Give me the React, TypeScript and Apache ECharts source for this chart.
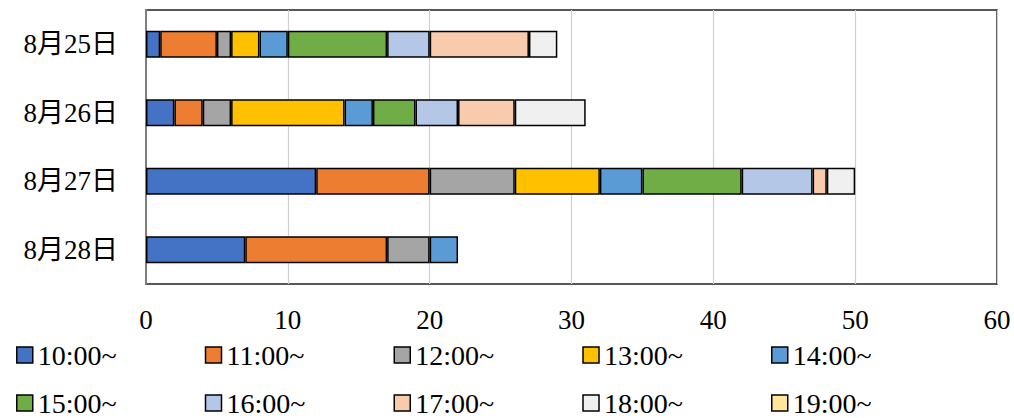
import React, { useEffect, useRef } from "react";
import * as echarts from "echarts";

const categories = ["8月25日", "8月26日", "8月27日", "8月28日"];
const seriesNames = ["10:00~", "11:00~", "12:00~", "13:00~", "14:00~", "15:00~", "16:00~", "17:00~", "18:00~", "19:00~"];
const colors = ["#4472C4", "#ED7D31", "#A5A5A5", "#FFC000", "#5B9BD5", "#70AD47", "#B4C7E7", "#F8CBAD", "#F0F0F0", "#FFE699"];
// values per series, one per category (25,26,27,28)
const s1000 = [1, 2, 12, 7];
const s1100 = [4, 2, 8, 10];
const s1200 = [1, 2, 6, 3];
const s1300 = [2, 8, 6, 0];
const s1400 = [2, 2, 3, 2];
const s1500 = [7, 3, 7, 0];
const s1600 = [3, 3, 5, 0];
const s1700 = [7, 4, 1, 0];
const s1800 = [2, 5, 2, 0];
const s1900 = [0, 0, 0, 0];
const seriesValues = [s1000, s1100, s1200, s1300, s1400, s1500, s1600, s1700, s1800, s1900];
const xTicks = [0, 10, 20, 30, 40, 50, 60];

const FONT = "'Liberation Serif', 'Noto Sans CJK JP', serif";

export default function App() {
  const ref = useRef<HTMLDivElement>(null);
  useEffect(() => {
    if (!ref.current) return;
    const chart = echarts.init(ref.current, undefined, { renderer: "svg" });
    const legendCommon = {
      orient: "horizontal" as const,
      left: 16,
      padding: 0,
      icon: "rect",
      itemWidth: 16,
      itemHeight: 16,
      itemGap: 7,
      itemStyle: { borderColor: "#000", borderWidth: 1.5 },
      textStyle: { fontFamily: FONT, fontSize: 28, color: "#000", width: 160, lineHeight: 32 },
    };
    chart.setOption({
      animation: false,
      textStyle: { fontFamily: FONT },
      grid: {
        left: 146,
        right: 17,
        top: 10,
        bottom: 134,
        show: true,
        borderColor: "#222",
        borderWidth: 1.5,
        containLabel: false,
      },
      legend: [
        { ...legendCommon, top: 339, data: seriesNames.slice(0, 5) },
        { ...legendCommon, top: 387, data: seriesNames.slice(5, 10) },
      ],
      xAxis: {
        type: "value",
        min: xTicks[0],
        max: xTicks[xTicks.length - 1],
        interval: 10,
        axisLine: { show: false },
        axisTick: { show: false },
        axisLabel: { fontFamily: FONT, fontSize: 27, color: "#000", margin: 22 },
        splitLine: { show: true, lineStyle: { color: "#D0D0D0", width: 1.2 } },
      },
      yAxis: {
        type: "category",
        inverse: true,
        data: categories,
        axisLine: { show: true, lineStyle: { color: "#7F7F7F", width: 2 } },
        axisTick: { show: false },
        axisLabel: { fontFamily: FONT, fontSize: 27, color: "#000", margin: 28 },
        splitLine: { show: false },
      },
      series: seriesNames.map((name, i) => ({
        name,
        type: "bar",
        stack: "total",
        barWidth: 27,
        itemStyle: { color: colors[i], borderColor: "#000", borderWidth: 1.5 },
        data: seriesValues[i].map((v) => (v === 0 ? null : v)),
      })),
    });
    return () => chart.dispose();
  }, []);
  return (
    <div
      ref={ref}
      style={{ position: "fixed", left: 0, top: 0, width: 1014, height: 418, background: "#fff" }}
    />
  );
}
